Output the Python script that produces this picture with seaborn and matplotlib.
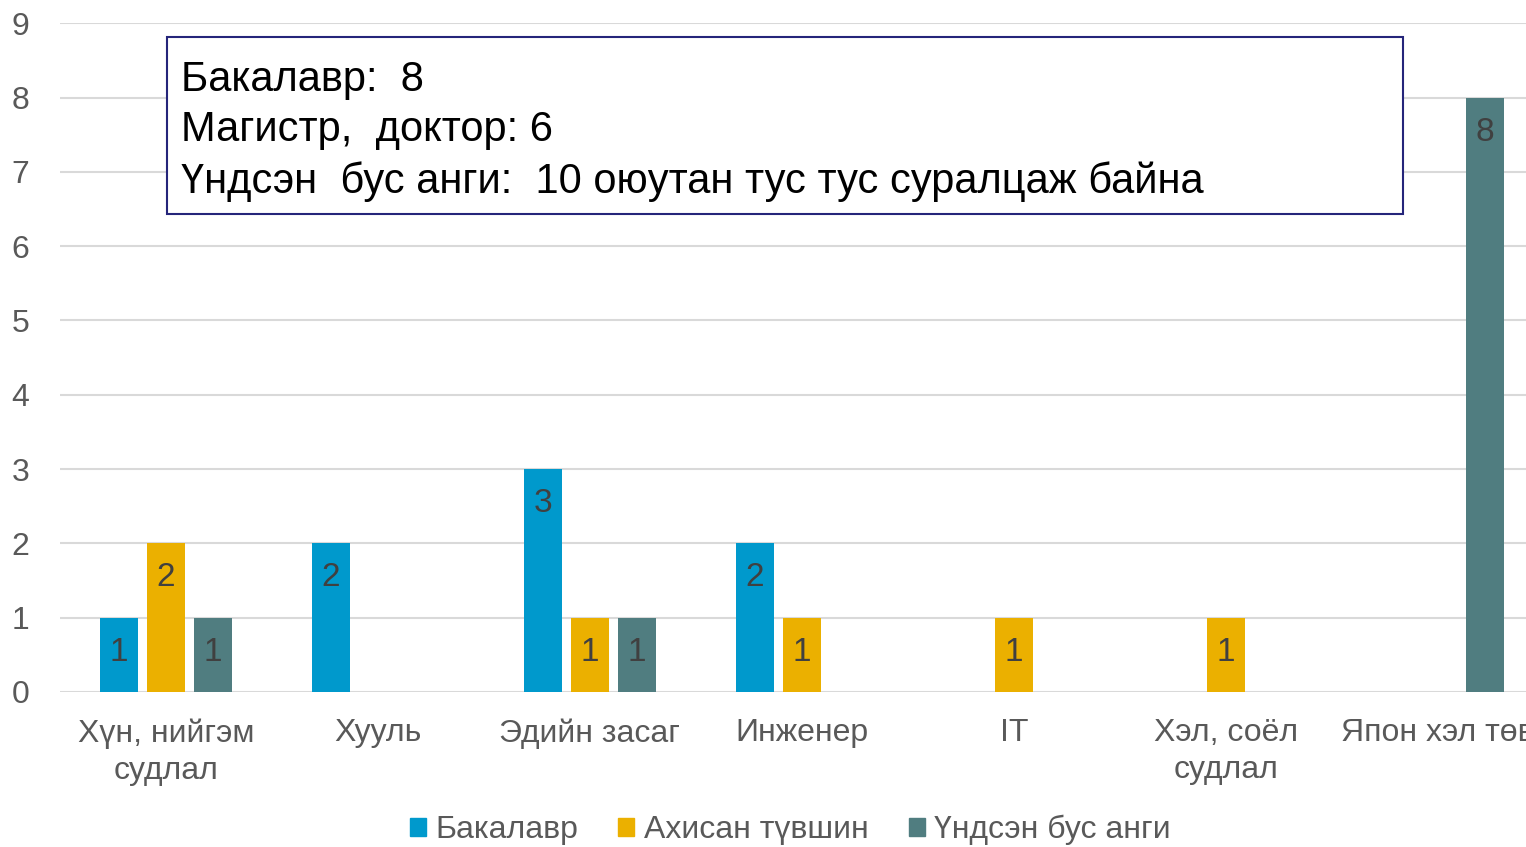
import pandas as pd
import matplotlib.pyplot as plt
from matplotlib.patches import Rectangle
import seaborn as sns

# ── Data ───────────────────────────────────────────────────────────────────
categories = ["Хүн, нийгэм\nсудлал", "Хууль", "Эдийн засаг", "Инженер",
              "IT", "Хэл, соёл\nсудлал", "Япон хэл төв"]
series = ["Бакалавр", "Ахисан түвшин", "Үндсэн бус анги"]
bachelor = [1, 2, 3, 2, 0, 0, 0]
advanced = [2, 0, 1, 1, 1, 1, 0]
nondegree = [1, 0, 1, 0, 0, 0, 8]
info_lines = ["Бакалавр:  8",
              "Магистр,  доктор: 6",
              "Үндсэн  бус анги:  10 оюутан тус тус суралцаж байна"]

COLORS = ["#0099CC", "#EBB000", "#507D80"]
GREY = "#595959"

df = pd.DataFrame({
    "cat": categories * 3,
    "level": [s for s in series for _ in categories],
    "value": bachelor + advanced + nondegree,
})

# ── Style ──────────────────────────────────────────────────────────────────
sns.set_theme(style="white")
plt.rcParams["font.family"] = ["Liberation Sans", "DejaVu Sans"]

fig = plt.figure(figsize=(15.26, 8.47), dpi=100)
ax = fig.add_axes([0.0393, 0.183, 0.9725, 0.7896])

sns.barplot(data=df, x="cat", y="value", hue="level", palette=COLORS,
            saturation=1, width=0.665, gap=0.19, linewidth=0,
            ax=ax, legend=False)

# value labels inside bars (skip zeros)
for cont in ax.containers:
    labels = [f"{v:g}" if v > 0 else "" for v in cont.datavalues]
    ax.bar_label(cont, labels=labels, label_type="edge", padding=-36,
                 fontsize=24, color="#404040")

ax.set_ylim(0, 9)
ax.set_xlim(-0.5, 6.5)
ax.set_yticks(range(10))
ax.yaxis.grid(True, color="#D9D9D9", linewidth=1.5)
ax.set_axisbelow(True)
sns.despine(ax=ax, left=True, bottom=True)
ax.set_xlabel("")
ax.set_ylabel("")
ax.tick_params(axis="y", length=0, pad=22, labelsize=23, labelcolor=GREY)
ax.tick_params(axis="x", length=0, pad=19, labelsize=23, labelcolor=GREY)
for t in ax.get_xticklabels():
    t.set_linespacing(1.3)
    t.set_verticalalignment("top")

# legend at bottom
handles = [Rectangle((0, 0), 1, 1, color=c) for c in COLORS]
fig.legend(handles, series, loc="lower center", bbox_to_anchor=(0.518, -0.032),
           ncol=3, frameon=False, fontsize=23, labelcolor=GREY,
           handlelength=0.5, handleheight=0.5, handletextpad=0.3,
           columnspacing=1.25)

# info box
fig.patches.append(Rectangle((0.1094, 0.7473), 0.81, 0.209,
                             transform=fig.transFigure, facecolor="white",
                             edgecolor="#25257A", linewidth=1.5, zorder=5))
for y, line in zip([0.9055, 0.8465, 0.7851], info_lines):
    fig.text(0.1186, y, line, fontsize=30, color="black", va="center",
             ha="left", zorder=6)

plt.savefig("out.png", dpi=100)
plt.close()
